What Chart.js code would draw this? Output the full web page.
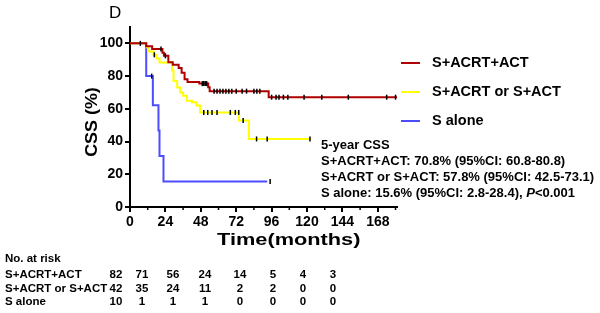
<!DOCTYPE html>
<html>
<head>
<meta charset="utf-8">
<script src="https://cdn.jsdelivr.net/npm/chart.js@4.4.1/dist/chart.umd.min.js"></script>
<style>
  html,body{margin:0;padding:0;background:#fff;}
  #wrap{position:relative;width:600px;height:313px;overflow:hidden;font-family:"Liberation Sans",Arial,sans-serif;font-weight:bold;color:#000;}
  canvas{position:absolute;left:0;top:0;}
  .t{position:absolute;white-space:nowrap;line-height:1;}
</style>
</head>
<body>
<div id="wrap">
  <canvas id="c" width="600" height="313"></canvas>
</div>
<script>
// ---- data ----
const seriesNames = ["S+ACRT+ACT", "S+ACRT or S+ACT", "S alone"];
const colors = ["#b00000", "#ffff00", "#4d4dff"];

// Kaplan-Meier steps: times (months) and survival (%) after each step
const redTimes   = [0, 11, 15, 22, 23, 26, 29, 33, 35, 37, 39, 47, 53, 54, 94, 181];
const redSurv    = [100, 98.3, 96.6, 94.2, 92.4, 88.5, 87.0, 85.0, 82.0, 78.0, 76.4, 75.4, 73.2, 70.8, 67.1, 67.1];
const yellowTimes = [0, 11.5, 12.5, 16, 18, 20, 28.5, 29.5, 32, 34, 36, 38.5, 42, 45, 47.5, 73.8, 80.6, 122.6];
const yellowSurv  = [100, 97.6, 95.1, 93.0, 90.8, 88.3, 83.4, 77.0, 73.0, 70.0, 68.0, 65.0, 64.0, 62.0, 57.8, 52.8, 41.6, 41.6];
const blueTimes  = [0, 11, 15.5, 19.3, 20, 22.7, 93];
const blueSurv   = [100, 80.0, 62.2, 46.7, 31.1, 15.6, 15.6];

// censoring times (months)
const redCensor    = [7, 21, 24, 49, 50, 51, 52, 57, 59, 61, 63, 65, 67, 69, 72, 76, 79, 84, 86, 88, 96, 99, 101, 104, 107, 118, 130, 148, 174, 180];
const yellowCensor = [16.5, 50, 52.7, 55.6, 59, 68, 71.4, 73.7, 76.7, 85.8, 93, 122];
const blueCensor   = [14.7, 95];

// axis ticks
const xTicks = [0, 24, 48, 72, 96, 120, 144, 168];
const xMinorTicks = [12, 36, 60, 84, 108, 132, 156, 180];
const yTicks = [0, 20, 40, 60, 80, 100];

// number at risk
const riskRowLabels = ["S+ACRT+ACT", "S+ACRT or S+ACT", "S alone"];
const riskRed    = [82, 71, 56, 24, 14, 5, 4, 3];
const riskYellow = [42, 35, 24, 11, 2, 2, 0, 0];
const riskBlue   = [10, 1, 1, 1, 0, 0, 0, 0];

// 5-year CSS annotation
const annotLines = [
  "5-year CSS",
  "S+ACRT+ACT: 70.8% (95%CI: 60.8-80.8)",
  "S+ACRT or S+ACT: 57.8% (95%CI: 42.5-73.1)",
  "S alone: 15.6% (95%CI: 2.8-28.4), <i>P</i>&lt;0.001"
];

// ---- build ----
function pts(t, s){ return t.map((v,i)=>({x:v, y:s[i]})); }
function survAt(t, s, time){ let v = s[0]; for(let i=0;i<t.length;i++){ if(t[i] <= time) v = s[i]; } return v; }
function censorPts(ct, t, s){ return ct.map(c=>({x:c, y:survAt(t,s,c)})); }

const curveSets = [
  {t:redTimes, s:redSurv, c:redCensor},
  {t:yellowTimes, s:yellowSurv, c:yellowCensor},
  {t:blueTimes, s:blueSurv, c:blueCensor}
];
const datasets = [];
[2,1,0].forEach(i=>{
  const cs = curveSets[i];
  datasets.push({type:'line', label:seriesNames[i], data:pts(cs.t, cs.s), borderColor:colors[i], borderWidth:2,
    stepped:'before', pointRadius:0, fill:false, tension:0, order: 10+i});
});
[2,1,0].forEach(i=>{
  const cs = curveSets[i];
  datasets.push({type:'scatter', label:seriesNames[i]+' censored', data:censorPts(cs.c, cs.t, cs.s),
    pointStyle:'line', rotation:90, radius:2.5, borderColor:'#000', backgroundColor:'#000', borderWidth:1.5, order: 1});
});

const minorTickPlugin = {
  id:'minorTicks',
  afterDraw(chart){
    const ctx = chart.ctx, xs = chart.scales.x, ys = chart.scales.y;
    const y0 = ys.getPixelForValue(0);
    ctx.save(); ctx.strokeStyle='#000'; ctx.lineWidth=1.5;
    xMinorTicks.forEach(v=>{ const px = xs.getPixelForValue(v); ctx.beginPath(); ctx.moveTo(px, y0); ctx.lineTo(px, y0+3); ctx.stroke(); });
    ctx.restore();
  }
};

const tickFont = {family:'"Liberation Sans", Arial, sans-serif', weight:'bold', size:14};
new Chart(document.getElementById('c'), {
  data:{datasets},
  options:{
    responsive:false, animation:false, devicePixelRatio:1,
    layout:{padding:{left:0, top:27, right:203, bottom:0}},
    plugins:{legend:{display:false}, tooltip:{enabled:false}},
    scales:{
      x:{type:'linear', min:0, max:181,
        afterBuildTicks(s){ s.ticks = xTicks.map(v=>({value:v})); },
        afterFit(s){ s.height = 106; },
        ticks:{font:tickFont, color:'#000', padding:2, maxRotation:0, autoSkip:false},
        grid:{drawOnChartArea:false, drawTicks:true, tickLength:5, color:'#000', lineWidth:2},
        border:{color:'#000', width:2}
      },
      y:{type:'linear', min:0, max:110,
        afterBuildTicks(s){ s.ticks = yTicks.map(v=>({value:v})); },
        afterFit(s){ s.width = 130; },
        ticks:{font:tickFont, color:'#000', padding:2},
        grid:{drawOnChartArea:false, drawTicks:true, tickLength:5, color:'#000', lineWidth:2},
        border:{color:'#000', width:2}
      }
    }
  },
  plugins:[minorTickPlugin]
});

// ---- text overlays ----
const wrap = document.getElementById('wrap');
function addText(html, x, y, size, extra){
  const d = document.createElement('div'); d.className='t'; d.innerHTML = html;
  d.style.left = x+'px'; d.style.top = y+'px'; d.style.fontSize = size+'px';
  if(extra) Object.assign(d.style, extra);
  wrap.appendChild(d); return d;
}
addText("D", 109, 4, 17, {fontWeight:'normal'});
addText("CSS (%)", 56, 114, 16, {transform:'rotate(-90deg) scaleX(1.12)', transformOrigin:'center', width:'72px', textAlign:'center'});
addText("Time(months)", 217, 231, 17, {transform:'scaleX(1.28)', transformOrigin:'left center'});

// legend
const legendY = [63, 92, 121];
seriesNames.forEach((n,i)=>{
  const l = document.createElement('div');
  Object.assign(l.style,{position:'absolute', left:'401px', top:(legendY[i]-1)+'px', width:'19px', height:'2px', background:colors[i]});
  wrap.appendChild(l);
  addText(n, 432, legendY[i]-8, 14.5);
});

// annotation
const annotY = [138, 154, 170, 186];
annotLines.forEach((s,i)=> addText(s, 321, annotY[i], 13));

// risk table
const riskColX = [116, 142, 173, 205, 240, 273, 303, 333];
addText("No. at risk", 5, 253, 11.5);
const riskRowsY = [269, 283, 296];
[riskRed, riskYellow, riskBlue].forEach((row,r)=>{
  addText(riskRowLabels[r], 5, riskRowsY[r], 11.5);
  row.forEach((v,k)=> addText(String(v), riskColX[k]-15, riskRowsY[r], 11.5, {width:'30px', textAlign:'center'}));
});
</script>
</body>
</html>
